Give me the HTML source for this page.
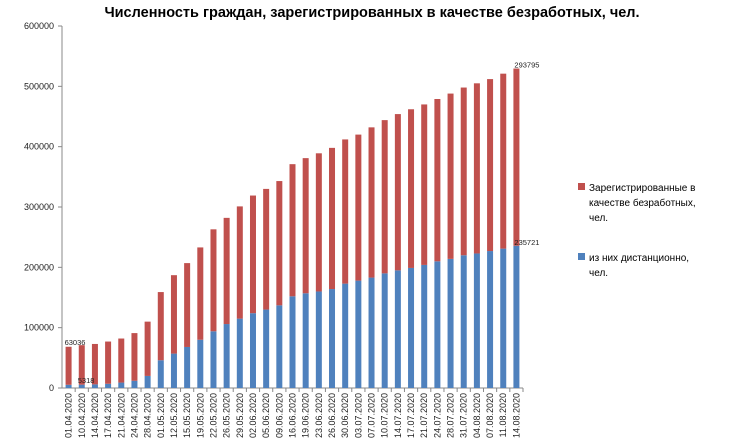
<!DOCTYPE html>
<html><head><meta charset="utf-8"><style>
body{margin:0;background:#fff;width:735px;height:440px;overflow:hidden;font-family:"Liberation Sans",sans-serif}
</style></head><body>
<svg id="c" width="735" height="440">
<text x="372" y="17" text-anchor="middle" font-size="14.5" font-weight="bold">Численность граждан, зарегистрированных в качестве безработных, чел.</text>
<g id="plot"></g>
<g>
<rect x="578" y="183" width="7" height="7" fill="#C0504D"/>
<text x="589" y="191" font-size="10"><tspan x="589">Зарегистрированные в</tspan><tspan x="589" dy="15">качестве безработных,</tspan><tspan x="589" dy="15">чел.</tspan></text>
<rect x="578" y="253" width="7" height="7" fill="#4F81BD"/>
<text x="589" y="261" font-size="10"><tspan x="589">из них дистанционно,</tspan><tspan x="589" dy="15">чел.</tspan></text>
</g>
</svg>
<script>
const categories=["01.04.2020","10.04.2020","14.04.2020","17.04.2020","21.04.2020","24.04.2020","28.04.2020","01.05.2020","12.05.2020","15.05.2020","19.05.2020","22.05.2020","26.05.2020","29.05.2020","02.06.2020","05.06.2020","09.06.2020","16.06.2020","19.06.2020","23.06.2020","26.06.2020","30.06.2020","03.07.2020","07.07.2020","10.07.2020","14.07.2020","17.07.2020","21.07.2020","24.07.2020","28.07.2020","31.07.2020","04.08.2020","07.08.2020","11.08.2020","14.08.2020"];
const remote=[5318,5500,6000,7000,9000,12000,20000,46000,57000,68000,80000,94000,106000,115000,124000,130000,137000,152000,157000,160000,164000,173000,178000,183000,190000,195000,199000,204000,210000,214000,220000,223000,227000,231000,235721];
const registered=[63036,65500,67000,70000,73000,79000,90000,113000,130000,139000,153000,169000,176000,186000,195000,200000,206000,219000,224000,229000,234000,239000,242000,249000,254000,259000,263000,266000,269000,274000,278000,282000,285000,290000,293795];
const yTicks=[0,100000,200000,300000,400000,500000,600000];
const NS="http://www.w3.org/2000/svg";
const g=document.getElementById('plot');
const x0=62,x1=523,y0=388,yTop=26,yMax=600000;
const step=(x1-x0)/categories.length,bw=6;
function y(v){return y0-(v/yMax)*(y0-yTop);}
function xc(i){return x0+step*(i+0.5);}
function mk(t,a){const e=document.createElementNS(NS,t);for(const k in a)e.setAttribute(k,a[k]);g.appendChild(e);return e;}
yTicks.forEach(v=>{
 const t=mk('text',{x:54,y:y(v)+3,'text-anchor':'end','font-size':9,fill:'#222'});
 
 
 t.textContent=v;
 const l=mk('line',{x1:x0-4,x2:x0,y1:y(v),y2:y(v),stroke:'#888'});
 
 
});
const ax=mk('line',{x1:x0,x2:x0,y1:yTop,y2:y0,stroke:'#888'});


const bx=mk('line',{x1:x0,x2:x1,y1:y0,y2:y0,stroke:'#888'});


categories.forEach((c,i)=>{
 const cx=xc(i);
 const b=mk('rect',{x:cx-bw/2,y:y(remote[i]),width:bw,height:y0-y(remote[i]),fill:'#4F81BD'});
 
 
 const r=mk('rect',{x:cx-bw/2,y:y(remote[i]+registered[i]),width:bw,height:y(remote[i])-y(remote[i]+registered[i]),fill:'#C0504D'});
 
 
 const tk=mk('line',{x1:x0+step*(i+1),x2:x0+step*(i+1),y1:y0,y2:y0+4,stroke:'#888'});
 
 
 const t=mk('text',{x:0,y:0,'font-size':9,'text-anchor':'end',fill:'#222',transform:`translate(${cx+3},${y0+5}) rotate(-90)`});
 
 
 t.textContent=c;
});
const n=categories.length-1;
[[0,registered[0],y(remote[0]+registered[0])-2,-4],[0,remote[0],y(remote[0])-2,step+ -4],[n,registered[n],y(remote[n]+registered[n])-1,-2],[n,remote[n],y(remote[n])-1,-2]].forEach(a=>{
 const t=mk('text',{x:xc(a[0])+a[3],y:a[2],'font-size':7.5,fill:'#222'});
 
 
 t.textContent=a[1];
});
</script>
</body></html>
